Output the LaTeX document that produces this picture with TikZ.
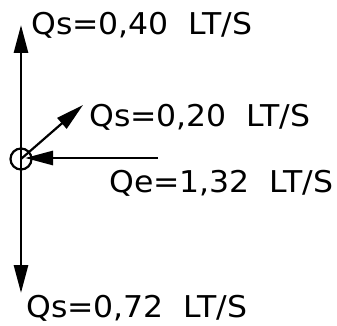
\documentclass[tikz,border=0pt]{standalone}
\usepackage{fontspec}
\setmainfont{DejaVu Sans}
\usetikzlibrary{arrows.meta}
\tikzset{
  flow/.style={line width=2.8pt, -{Triangle[length=28pt,width=14pt]}},
  lbl/.style={anchor=base west, inner sep=0pt, xscale=1.05, font=\fontsize{30}{30}\selectfont}
}
\begin{document}
\begin{tikzpicture}[x=1pt,y=-1pt]
\useasboundingbox (0,0) rectangle (337,326);
\node[draw, circle, line width=2.2pt, minimum size=21pt, inner sep=0pt] (c) at (21,159) {};
\coordinate (top) at (21,25);
\coordinate (bot) at (21,293);
\coordinate (diag) at (83,105);
\coordinate (qe) at (158,158);
\draw[flow] (c.center) -- (top);
\draw[flow] (c.center) -- (bot);
\draw[flow, line width=2.2pt] (c.center) -- (diag);
\draw[flow] (qe) -- (25,158) coordinate (qetip);
\node[lbl] (l1) at (31,35) {Qs=0,40\ \ LT/S};
\node[lbl] (l2) at (89,127) {Qs=0,20\ \ LT/S};
\node[lbl] (l3) at (109,192) {Qe=1,32\ \ LT/S};
\node[lbl] (l4) at (26,317) {Qs=0,72\ \ LT/S};
\end{tikzpicture}
\end{document}
